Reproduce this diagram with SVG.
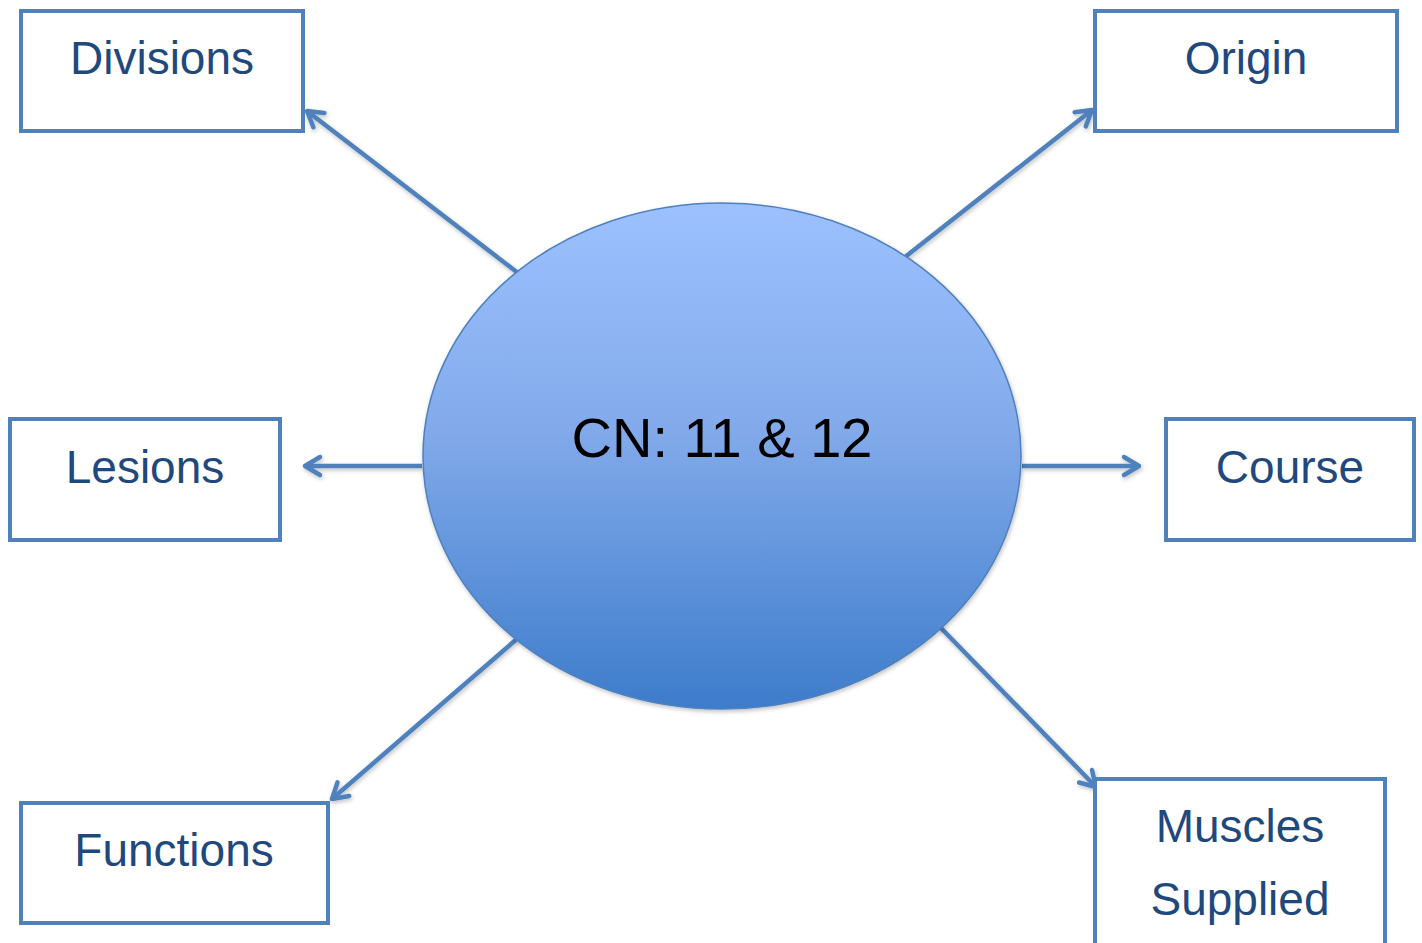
<svg xmlns="http://www.w3.org/2000/svg" width="1422" height="943" viewBox="0 0 1422 943">
<style>
.box{fill:#fff;stroke:#4F81BD;stroke-width:4}
.lbl{font-family:"Liberation Sans",Arial,sans-serif;font-size:46px;fill:#1F497D;text-anchor:middle}
.conn{stroke:#4F81BD;stroke-width:4.5;fill:none;marker-end:url(#ah)}
</style>
<defs>
<linearGradient id="g" x1="0" y1="0" x2="0" y2="1">
<stop offset="0" stop-color="#9DC1FF"/>
<stop offset="0.45" stop-color="#82AAEA"/>
<stop offset="1" stop-color="#3D7CCB"/>
</linearGradient>
<filter id="sh" filterUnits="userSpaceOnUse" x="0" y="0" width="1422" height="943">
<feDropShadow dx="1" dy="2" stdDeviation="2" flood-color="#000" flood-opacity="0.25"/>
</filter>
<marker id="ah" markerUnits="userSpaceOnUse" viewBox="-20 -15 30 30" markerWidth="30" markerHeight="30" refX="0" refY="0" orient="auto" overflow="visible">
<path d="M-15,-9 L0,0 L-15,9" fill="none" stroke="#4F81BD" stroke-width="4.5" stroke-linecap="round" stroke-linejoin="round"/>
</marker>
</defs>
<g id="connectors" filter="url(#sh)">
<line class="conn" x1="518" y1="273" x2="307" y2="111"/>
<line class="conn" x1="905" y1="257" x2="1092" y2="110"/>
<line class="conn" x1="422" y1="466" x2="305" y2="466"/>
<line class="conn" x1="1022" y1="466" x2="1139" y2="466"/>
<line class="conn" x1="518" y1="638" x2="332" y2="799"/>
<line class="conn" x1="940" y1="627" x2="1096" y2="787"/>
</g>
<g id="center">
<ellipse cx="722" cy="456" rx="299" ry="253" fill="url(#g)" stroke="#4F81BD" stroke-width="1.5" filter="url(#sh)"/>
<text x="722" y="457" style="font-family:'Liberation Sans',Arial,sans-serif;font-size:56px;fill:#000;text-anchor:middle">CN: 11 &amp; 12</text>
</g>
<g id="divisions">
<rect class="box" x="21" y="11" width="282" height="120"/>
<text class="lbl" x="162" y="74">Divisions</text>
</g>
<g id="origin">
<rect class="box" x="1095" y="11" width="302" height="120"/>
<text class="lbl" x="1246" y="74">Origin</text>
</g>
<g id="lesions">
<rect class="box" x="10" y="419" width="270" height="121"/>
<text class="lbl" x="145" y="483">Lesions</text>
</g>
<g id="course">
<rect class="box" x="1166" y="419" width="248" height="121"/>
<text class="lbl" x="1290" y="483">Course</text>
</g>
<g id="functions">
<rect class="box" x="21" y="803" width="307" height="120"/>
<text class="lbl" x="174" y="866">Functions</text>
</g>
<g id="muscles">
<rect class="box" x="1095" y="779" width="290" height="180"/>
<text class="lbl" x="1240" y="842">Muscles</text>
<text class="lbl" x="1240" y="915">Supplied</text>
</g>
</svg>
